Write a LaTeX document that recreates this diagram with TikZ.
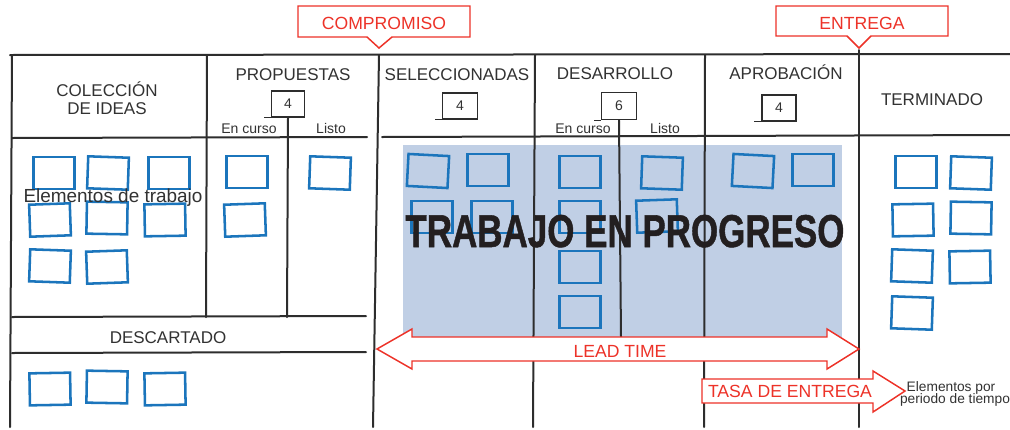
\documentclass[tikz,border=0pt]{standalone}
\usepackage{fontspec}
\setmainfont{Liberation Sans}
\newfontfamily\wipfont{Liberation Sans}[BoldFeatures={FakeBold=1.2}]
\definecolor{wblue}{RGB}{27,117,188}
\definecolor{wipfill}{RGB}{192,207,229}
\definecolor{kred}{RGB}{237,50,40}
\definecolor{kline}{RGB}{45,45,45}
\definecolor{ktext}{RGB}{50,50,50}
\definecolor{wiptext}{RGB}{35,31,32}
\begin{document}
\begin{tikzpicture}[x=0.75pt,y=-0.75pt,
  grid/.style={draw=kline, line width=1.5pt, line cap=round},
  wbox/.style={draw=wblue, line width=1.9pt, minimum width=30.5pt, minimum height=24pt, inner sep=0pt},
  hdr/.style={text=ktext, font=\fontsize{12.75}{15}\selectfont, inner sep=0pt, anchor=base},
  sub/.style={text=ktext, font=\fontsize{10.5}{12}\selectfont, inner sep=0pt, anchor=base},
  limbox/.style={draw=kline, line width=1.3pt, minimum height=19.5pt, inner sep=0pt, font=\fontsize{10.5}{12}\selectfont, text=ktext},
  redtxt/.style={text=kred, font=\fontsize{13.2}{15}\selectfont, inner sep=0pt, anchor=base},
  redshape/.style={draw=kred, line width=1.1pt, fill=white, line join=miter}
]
\useasboundingbox (0,0) rectangle (1010,429);
\fill[white] (0,0) rectangle (1010,429);

% work-in-progress area
\fill[wipfill] (403,145) rectangle (842,337);

% board grid
\draw[grid] (10,55) -- (1010,54);
\draw[grid] (12,55) -- (10,427);
\draw[grid] (207,55) -- (206,317);
\draw[grid] (379,55) -- (373,427);
\draw[grid] (535,55) -- (533,427);
\draw[grid] (705,55) -- (704,427);
\draw[grid] (859,50) -- (859,427);
\draw[grid] (12,138) -- (367,137);
\draw[grid] (382,137) -- (1010,135);
\draw[grid] (12,317) -- (366,316);
\draw[grid] (12,353) -- (366,352);

% column headers
\node[hdr] (col) at (107,96) {COLECCIÓN};
\node[hdr] (col2) at (107,114) {DE IDEAS};
\node[hdr] (prop) at (293,80) {PROPUESTAS};
\node[hdr] (sel) at (457,80) {SELECCIONADAS};
\node[hdr] (des) at (615,79) {DESARROLLO};
\node[hdr] (apr) at (786,79) {APROBACIÓN};
\node[hdr] (ter) at (932,105) {TERMINADO};
\node[hdr] (desc) at (168,343) {DESCARTADO};

% WIP limits
\node[limbox, minimum width=24.75pt] (lim1) at (288,104) {4};
\node[limbox, minimum width=26.25pt] (lim2) at (460,106) {4};
\node[limbox, minimum width=26.25pt, minimum height=20.25pt] (lim3) at (619,106) {6};
\node[limbox, minimum width=25.5pt] (lim4) at (779,108) {4};
\foreach \l in {lim1,lim2,lim3,lim4}
  \draw[kline, line width=0.9pt] (\l.south west) -- ++(-7,0);

% sub columns
\coordinate (pend) at (287,317);
\coordinate (dend) at (621,337);
\draw[grid] (lim1.south) -- (pend);
\draw[grid] (lim3.south) -- (dend);
\node[sub] (pc) at (249,133) {En curso};
\node[sub] (pl) at (331,133) {Listo};
\node[sub] (dc) at (583,133) {En curso};
\node[sub] (dl) at (665,133) {Listo};

% work items
\foreach \n/\x/\y/\r in {
  c1/54/173/0, c2/108/173/-2, c3/169/173/0,
  c4/50/220/2, c5/107/218/-1, c6/165/220/1,
  c7/50/266/-2, c8/107/267/2,
  p1/247/172/0, p2/245/220/2, p3/330/173/-2,
  d1/50/389/1, d2/107/387/-1, d3/165/389/1,
  s1/428/171/-3, s2/488/170/0, s3/432/217/0, s4/492/217/0,
  e1/580/172/0, e2/580/217/0, e3/580/267/0, e4/580/312/0,
  e5/662/173/-2, e6/657/216/2,
  a1/753/171/-3, a2/813/170/0,
  t1/916/172/0, t2/971/173/-2, t3/913/220/1, t4/971/218/-1,
  t5/912/266/-2, t6/970/267/1, t7/912/313/-2}
  \node[wbox, rotate=\r] (\n) at (\x,\y) {};

\node[text=ktext, font=\fontsize{14.2}{15}\selectfont, inner sep=0pt, anchor=base] (elem) at (113,202) {Elementos de trabajo};

\node[text=wiptext, inner sep=0pt, anchor=base] (wip) at (625,247)
  {\scalebox{0.76}[1]{\wipfont\fontsize{34.5}{40}\selectfont\bfseries TRABAJO EN PROGRESO}};

% callouts
\draw[redshape] (298,6) -- (470,6) -- (470,37) -- (392,37) -- (379,48) -- (367,37) -- (298,37) -- cycle;
\node[redtxt] (comp) at (384,29) {COMPROMISO};
\draw[redshape] (776,6) -- (948,6) -- (948,36) -- (871,36) -- (859,48) -- (847,36) -- (776,36) -- cycle;
\node[redtxt] (entr) at (862,29) {ENTREGA};

% lead time arrow
\draw[redshape] (377,349) -- (412,329) -- (412,337) -- (827,337) -- (827,329) -- (859,349) -- (827,369) -- (827,361) -- (412,361) -- (412,369) -- cycle;
\node[redtxt] (lead) at (620,357) {LEAD TIME};

% delivery rate arrow
\draw[redshape] (702,379) -- (873,379) -- (873,371) -- (905,391) -- (873,412) -- (873,403) -- (702,403) -- cycle;
\node[redtxt] (tasa) at (790,397) {TASA DE ENTREGA};

\node[text=ktext, font=\fontsize{10.3}{10.5}\selectfont, inner sep=0pt, anchor=base] (ep1) at (951,391) {Elementos por};
\node[text=ktext, font=\fontsize{10.3}{10.5}\selectfont, inner sep=0pt, anchor=base] (ep2) at (955,403) {periodo de tiempo};
\end{tikzpicture}
\end{document}
